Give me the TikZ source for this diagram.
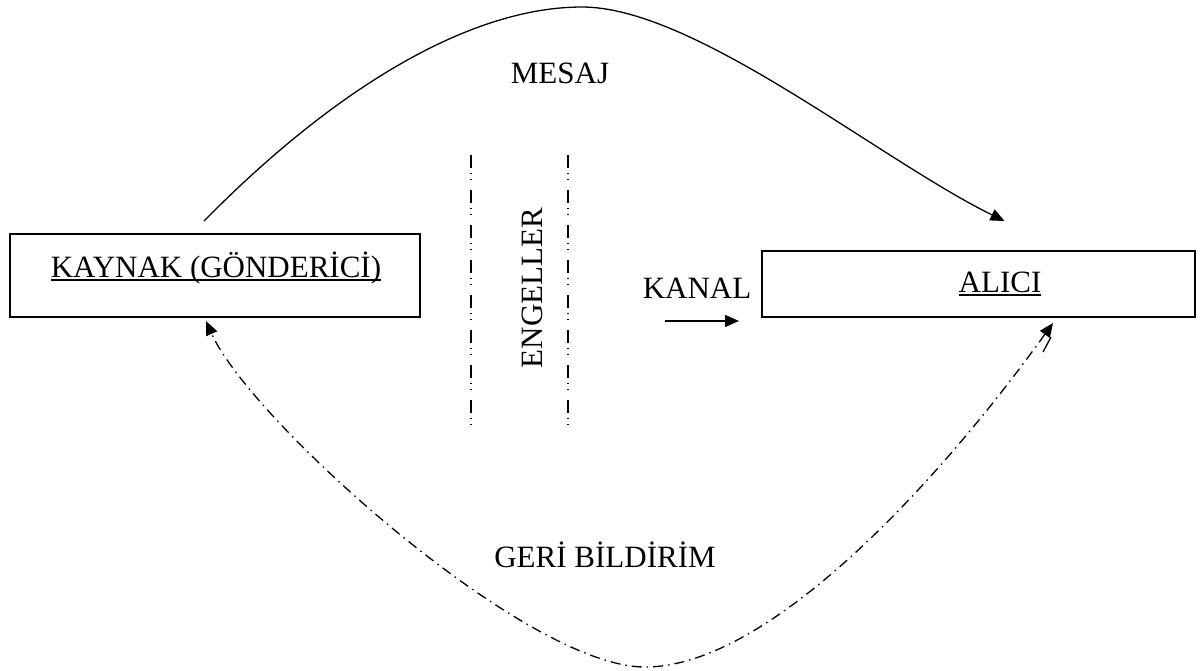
\documentclass[tikz,border=0pt]{standalone}
\usepackage{fontspec}
\setmainfont{Liberation Serif}
\usetikzlibrary{arrows.meta}
% text with a rule close under its baseline
\newcommand\underlinetext[1]{\setbox0\hbox{#1}\rlap{\rule[-3.5pt]{\wd0}{1.5pt}}\box0}

\begin{document}
\begin{tikzpicture}[x=1pt,y=-1pt,
  frame/.style={draw, line width=2pt, inner sep=0pt, rectangle},
  lbl/.style={font=\fontsize{31}{37}\selectfont, inner sep=0pt},
  tip/.style={-{Triangle[length=14pt,width=12pt]}},
  bothtips/.style={{Triangle[length=14pt,width=12pt]}-{Triangle[length=14pt,width=12pt]}},
  flow/.style={line width=1.3pt},
  feedback/.style={line width=1.3pt, dash pattern=on 10pt off 5pt on 1.5pt off 5pt},
  barrier/.style={line width=1.6pt, dash pattern=on 13pt off 5pt on 1pt off 5pt on 1pt off 10pt},
]
\useasboundingbox (0,0) rectangle (1201,670);

% sender and receiver boxes
\node[frame, minimum width=410pt, minimum height=83pt] (kaynak) at (215,275.5) {};
\node[lbl, anchor=base] (kaynakText) at (216,277) {\underlinetext{KAYNAK (GÖNDERİCİ)}};
\node[frame, minimum width=433pt, minimum height=66pt] (alici) at (978.5,284) {};
\node[lbl, anchor=base] (aliciText) at (1000,292) {\underlinetext{ALICI}};

% labels
\node[lbl, anchor=base] (mesaj) at (560,83) {MESAJ};
\node[lbl, anchor=base, rotate=90] (engeller) at (542,288) {ENGELLER};
\node[lbl, anchor=base] (kanal) at (697,298) {KANAL};
\node[lbl, anchor=base] (geri) at (605,567) {GERİ BİLDİRİM};

% barriers
\coordinate (b1top) at (471,155);
\coordinate (b1bot) at (471,428);
\coordinate (b2top) at (568,155);
\coordinate (b2bot) at (568,428);
\draw[barrier] (b1top) -- (b1bot);
\draw[barrier] (b2top) -- (b2bot);

% channel arrow
\coordinate (kanalFrom) at (665,321);
\coordinate (kanalTo) at (739,321);
\draw[line width=1.5pt, tip] (kanalFrom) -- (kanalTo);

% message
\draw[flow, tip] ([shift={(-11,-12)}]kaynak.north)
  .. controls (335,88) and (470,7) .. (582,7)
  .. controls (695,7) and (880,160) .. ([shift={(26,-29)}]alici.north);

% feedback
\draw[feedback, bothtips] ([shift={(74.5,5)}]alici.south)
  .. controls (940,480) and (770,667) .. (645,667)
  .. controls (525,667) and (250,420) .. ([shift={(-9,3)}]kaynak.south);
\draw[flow] ([shift={(64.5,34)}]alici.south) -- ([shift={(72.5,19)}]alici.south);
\end{tikzpicture}
\end{document}
